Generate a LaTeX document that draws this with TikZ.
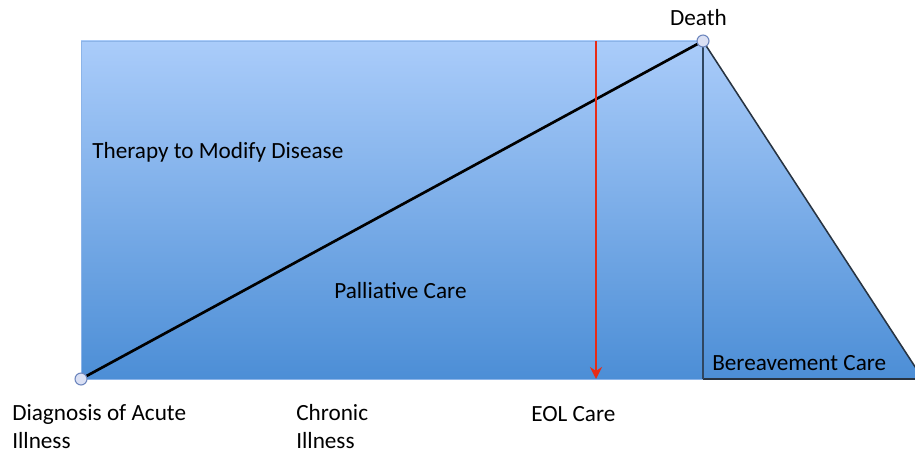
\documentclass[tikz,border=0pt]{standalone}
\usepackage{fontspec}
\setmainfont{Carlito}
\usetikzlibrary{arrows.meta,positioning}
\definecolor{skytop}{RGB}{170,204,250}
\definecolor{skybot}{RGB}{76,142,214}
\definecolor{skyedge}{RGB}{140,180,232}
\definecolor{edgedark}{RGB}{40,52,66}
\definecolor{eolred}{RGB}{232,44,22}
\definecolor{dotfill}{RGB}{218,224,244}
\definecolor{dotedge}{RGB}{110,135,190}
\tikzset{
  phase/.style={top color=skytop, bottom color=skybot},
  milestone/.style={circle, draw=dotedge, fill=dotfill, line width=0.8pt,
                    minimum size=8.5pt, inner sep=0pt},
  traj/.style={black, line width=1.9pt},
  eolarr/.style={-{Stealth[length=3mm, width=3mm, inset=1mm]}, eolred, line width=2.1pt},
  lbl/.style={font=\fontsize{16.5}{19.3}\selectfont, inner sep=0pt, align=left, anchor=base west},
}

\begin{document}
\begin{tikzpicture}[x=0.025cm, y=-0.025cm]
    \useasboundingbox (0,0) rectangle (915,453);
    % care phases
    \begin{scope}
      \clip (0,0) rectangle (915,453);
      \shade[phase, draw=skyedge, line width=0.6pt] (81,41) rectangle (703,379);
      \shade[phase] (703,41) -- (923,379) -- (703,379) -- cycle;
      \draw[edgedark, line width=0.9pt] (703,379) -- (923,379);
      \draw[edgedark, line width=1.1pt] (703,41) -- (923,379);
      \draw[edgedark!80!skybot, line width=1.5pt] (703,41) -- (703,379);
    \end{scope}
    \node[milestone] (diag) at (81,379) {};
    \node[milestone] (death) at (703,41) {};
    \draw[traj] (diag) -- (death);
    \coordinate (eoltop) at (596,41);
    \coordinate (eolbot) at (596,379);
    \draw[eolarr] (eoltop) -- (eolbot);
    % labels (two-line labels sit on the baseline of their last line)
    \node[lbl, anchor=base] (deathlbl) at (698.5,26) {Death};
    \node[lbl] (therapy) at (92,158) {Therapy to Modify Disease};
    \node[lbl] (palliative) at (334,298) {Palliative Care};
    \node[lbl] (bereave) at (712,370) {Bereavement Care};
    \node[lbl] (acute) at (12,448) {Diagnosis of Acute\\Illness};
    \node[lbl] (chronic) at (296,448) {Chronic\\Illness};
    \node[lbl] (eol) at (531,421) {EOL Care};
  \end{tikzpicture}
\end{document}
